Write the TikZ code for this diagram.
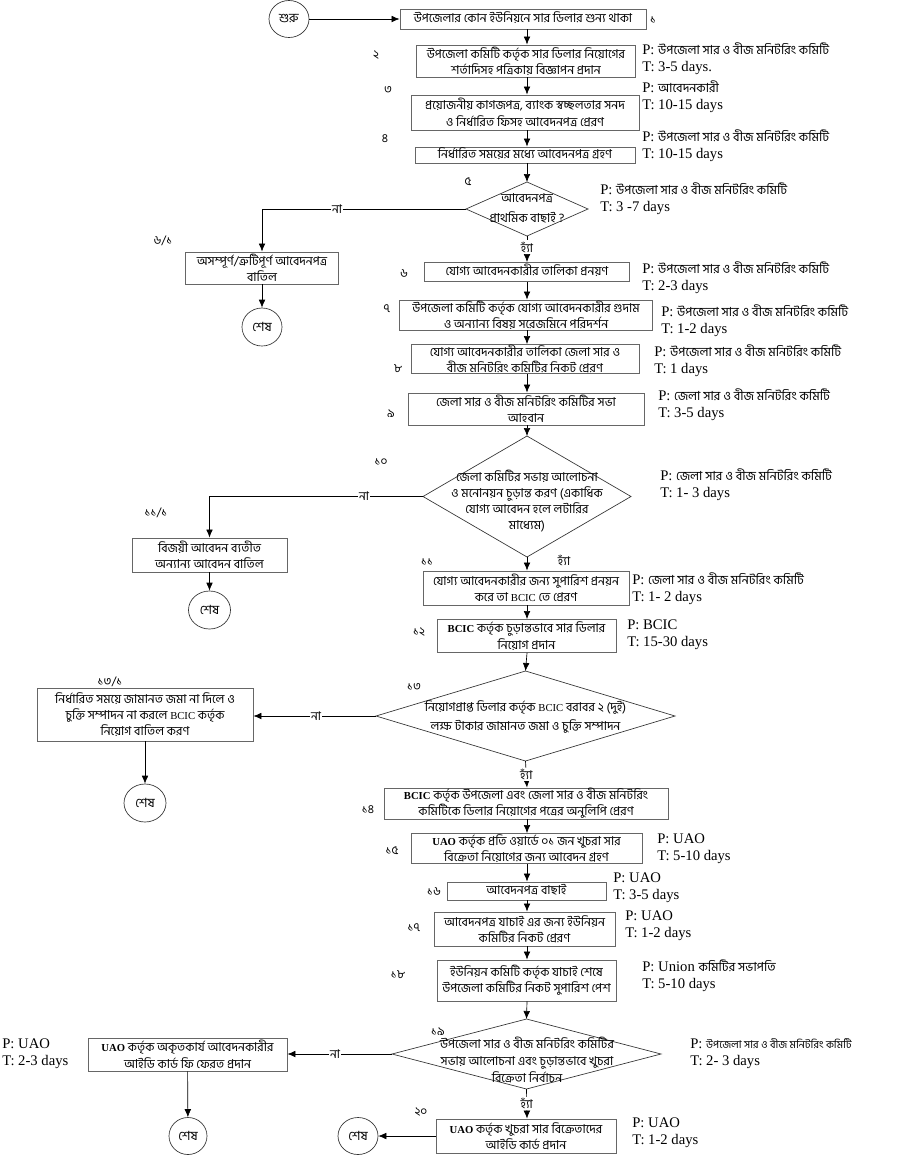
\documentclass[tikz,border=0pt]{standalone}
\usepackage{fontspec}
\setmainfont{Liberation Serif}
\newfontfamily\bn[Script=Bengali]{Hind Siliguri}
\usetikzlibrary{shapes.geometric,arrows.meta}
\newcommand\bp[1]{{\bn\fontsize{9.4}{12}\selectfont #1}}
\newcommand\lt[1]{{\rmfamily\bfseries\fontsize{8}{8}\selectfont #1}}
\newcommand\ltn[1]{{\rmfamily\fontsize{8}{8}\selectfont #1}}
\begin{document}
\begin{tikzpicture}[x=0.75pt,y=-0.75pt,
 box/.style={draw=black!60, line width=0.7pt, fill=white, inner sep=0pt, align=center, font=\bn\fontsize{9.2}{12.2}\selectfont},
 single/.style={text height=6.5pt, text depth=2pt},
 sz/.style 2 args={minimum width=#1*0.75pt, minimum height=#2*0.75pt},
 dia/.style={draw=black!80, line width=0.5pt, diamond, inner sep=0pt, outer sep=0pt},
 dtext/.style={align=center, inner sep=0pt, font=\bn\fontsize{9.2}{#1}\selectfont},
 endc/.style={draw=black!80, line width=0.5pt, ellipse, inner sep=0pt, font=\bn\fontsize{9.5}{10}\selectfont},
 arr/.style={-{Latex[length=6pt,width=5pt]}, line width=0.5pt},
 num/.style={font=\bn\fontsize{9}{10}\selectfont, inner sep=0pt},
 yn/.style={font=\bn\fontsize{9}{10}\selectfont, inner sep=1pt, fill=white},
 pt/.style={anchor=west, align=left, inner sep=0pt, font=\fontsize{11}{12.6}\selectfont}]
\useasboundingbox[fill=white] (0,0) rectangle (900,1164);
\coordinate (col) at (527,0);

% ---- nodes ----
\node[endc, sz={40}{37}] (start) at (289,19) {শুরু};
\node[box, single, sz={246}{20}] (b1) at (523,19) {উপজেলার কোন ইউনিয়নে সার ডিলার শুন্য থাকা};
\node[num] (n1) at (653,20) {১};

\node[box, sz={219}{32}] (b2) at (526,61) {উপজেলা কমিটি কর্তৃক সার ডিলার নিয়োগের\\শর্তাদিসহ পত্রিকায় বিজ্ঞাপন প্রদান};
\node[num] (n2) at (376,55) {২};
\node[pt] (p2) at (642,59) {P: \bp{উপজেলা সার ও বীজ মনিটরিং কমিটি}\\T: 3-5 days.};

\node[box, sz={228}{35}] (b3) at (525,112.5) {প্রয়োজনীয় কাগজপত্র, ব্যাংক স্বচ্ছলতার সনদ\\ও নির্ধারিত ফিসহ আবেদনপত্র প্রেরণ};
\node[num] (n3) at (388,90) {৩};
\node[pt] (p3) at (642,97) {P: \bp{আবেদনকারী}\\T: 10-15 days};

\node[box, single, sz={220}{16}] (b4) at (525,155) {নির্ধারিত সময়ের মধ্যে আবেদনপত্র গ্রহণ};
\node[num] (n4) at (385,139) {৪};
\node[pt] (p4) at (642,146) {P: \bp{উপজেলা সার ও বীজ মনিটরিং  কমিটি}\\T: 10-15 days};

\node[dia, sz={122}{54}] (d5) at (527,209) {};
\node[dtext=15pt] (t5) at (527,208) {আবেদনপত্র\\প্রাথমিক বাছাই ?};
\node[num] (n5) at (468,182) {৫};
\node[pt] (p5) at (600,199) {P: \bp{উপজেলা সার ও বীজ মনিটরিং  কমিটি}\\T: 3 -7 days};

\node[box, sz={153}{32}] (b61) at (262,268) {অসম্পূর্ণ/ত্রুটিপূর্ণ আবেদনপত্র\\বাতিল};
\node[num] (n61) at (163,241) {৬/১};
\node[endc, sz={40}{38}] (e61) at (262,327) {শেষ};

\node[box, single, sz={205}{19}] (b6) at (527,272) {যোগ্য আবেদনকারীর তালিকা প্রনয়ণ};
\node[num] (n6) at (404,274) {৬};
\node[pt] (p6) at (642,278) {P: \bp{উপজেলা সার ও বীজ মনিটরিং  কমিটি}\\T: 2-3 days};

\node[box, sz={253}{30}] (b7) at (526,315) {উপজেলা কমিটি কর্তৃক যোগ্য আবেদনকারীর গুদাম\\ও অন্যান্য বিষয় সরেজমিনে পরিদর্শন};
\node[num] (n7) at (387,309) {৭};
\node[pt] (p7) at (661,320.5) {P: \bp{উপজেলা সার ও বীজ মনিটরিং  কমিটি}\\T: 1-2 days};

\node[box, sz={228}{29}] (b8) at (525,359) {যোগ্য আবেদনকারীর তালিকা জেলা সার ও\\বীজ মনিটরিং কমিটির নিকট প্রেরণ};
\node[num] (n8) at (398,369) {৮};
\node[pt] (p8) at (654,361) {P: \bp{উপজেলা সার ও বীজ মনিটরিং  কমিটি}\\T: 1 days};

\node[box, sz={236}{32}] (b9) at (526,409) {জেলা সার ও বীজ মনিটরিং কমিটির সভা\\আহবান};
\node[num] (n9) at (391,414) {৯};
\node[pt] (p9) at (658,404.5) {P: \bp{জেলা সার ও বীজ মনিটরিং  কমিটি}\\T: 3-5 days};

\node[dia, sz={208}{121}] (d10) at (527,496.5) {};
\node[dtext=12pt] (t10) at (527,501) {জেলা  কমিটির সভায় আলোচনা\\ও মনোনয়ন চুড়ান্ত করণ (একাধিক\\যোগ্য আবেদন হলে লটারির\\মাধ্যেম)};
\node[num] (n10) at (381,462) {১০};
\node[pt] (p10) at (660,485) {P: \bp{জেলা সার ও বীজ মনিটরিং  কমিটি}\\T: 1- 3 days};

\node[box, sz={155}{34}] (b111) at (209.5,555) {বিজয়ী আবেদন ব্যতীত\\অন্যান্য আবেদন বাতিল};
\node[num] (n111) at (156,513) {১১/১};
\node[endc, sz={42}{38}] (e111) at (209.5,610) {শেষ};

\node[box, sz={206}{34}] (b11) at (526,588) {যোগ্য আবেদনকারীর জন্য সুপারিশ প্রনয়ন\\করে তা \ltn{BCIC} তে প্রেরণ};
\node[num] (n11) at (427,562) {১১};
\node[pt] (p11) at (632,588.5) {P: \bp{জেলা সার ও বীজ মনিটরিং  কমিটি}\\T: 1- 2 days};

\node[box, sz={179}{33}] (b12) at (526.5,636) {\lt{BCIC} কর্তৃক চুড়ান্তভাবে সার ডিলার\\নিয়োগ প্রদান};
\node[num] (n12) at (419,632) {১২};
\node[pt] (p12) at (627,634.5) {P: BCIC\\T: 15-30 days};

\node[dia, sz={299}{90}] (d13) at (525.5,716) {};
\node[dtext=14pt] (t13) at (525.5,717) {নিয়োগপ্রাপ্ত ডিলার কর্তৃক \ltn{BCIC} বরাবর ২ (দুই)\\লক্ষ টাকার জামানত জমা ও চুক্তি সম্পাদন};
\node[num] (n13) at (414,687) {১৩};

\node[box, sz={216}{53}] (b131) at (145,714.5) {নির্ধারিত সময়ে জামানত জমা না দিলে ও\\চুক্তি সম্পাদন না করলে \ltn{BCIC} কর্তৃক\\নিয়োগ বাতিল করণ};
\node[num] (n131) at (110,682) {১৩/১};
\node[endc, sz={42}{38}] (e131) at (145,803) {শেষ};

\node[box, sz={284}{31}] (b14) at (526,803.5) {\lt{BCIC} কর্তৃক উপজেলা এবং জেলা সার ও বীজ মনিটরিং\\কমিটিকে ডিলার নিয়োগের পত্রের অনুলিপি প্রেরণ};
\node[num] (n14) at (368,810) {১৪};

\node[box, sz={231}{30}] (b15) at (526.5,848.5) {\lt{UAO} কর্তৃক প্রতি ওয়ার্ডে ০১ জন খুচরা সার\\বিক্রেতা নিয়োগের জন্য আবেদন গ্রহণ};
\node[num] (n15) at (392,851) {১৫};
\node[pt] (p15) at (657,848.5) {P: UAO\\T: 5-10 days};

\node[box, single, sz={159}{18}] (b16) at (526.5,891) {আবেদনপত্র বাছাই};
\node[num] (n16) at (434,892) {১৬};
\node[pt] (p16) at (613,887.5) {P: UAO\\T: 3-5 days};

\node[box, sz={181}{34}] (b17) at (524.5,929) {আবেদনপত্র যাচাই এর জন্য ইউনিয়ন\\কমিটির নিকট প্রেরণ};
\node[num] (n17) at (414,928) {১৭};
\node[pt] (p17) at (625,926) {P: UAO\\T: 1-2 days};

\node[box, sz={179}{41}] (b18) at (526.5,980.5) {ইউনিয়ন কমিটি কর্তৃক যাচাই শেষে\\উপজেলা কমিটির নিকট সুপারিশ পেশ};
\node[num] (n18) at (398,975) {১৮};
\node[pt] (p18) at (642,975.5) {P: Union \bp{কমিটির সভাপতি}\\T: 5-10 days};

\node[dia, sz={269}{70}] (d19) at (526.5,1054) {};
\node[dtext=12.5pt] (t19) at (527,1060) {উপজেলা সার ও বীজ মনিটরিং কমিটির\\সভায় আলোচনা এবং চুড়ান্তভাবে খুচরা\\বিক্রেতা নির্বাচন};
\node[num] (n19) at (438,1032) {১৯};
\node[pt] (p19) at (690,1053.5) {P: {\bn\fontsize{8}{11.25}\selectfont উপজেলা সার ও বীজ মনিটরিং  কমিটি}\\T: 2- 3 days};

\node[box, sz={199}{33}] (b191) at (187.5,1054.5) {\lt{UAO} কর্তৃক অকৃতকার্য আবেদনকারীর\\আইডি কার্ড ফি ফেরত প্রদান};
\node[pt] (p191) at (2,1053.5) {P: UAO\\T: 2-3 days};
\node[endc, sz={38}{37}] (e191) at (188,1136) {শেষ};

\node[box, sz={180}{34}] (b20) at (526,1136) {\lt{UAO} কর্তৃক খুচরা সার বিক্রেতাদের\\আইডি কার্ড প্রদান};
\node[num] (n20) at (421,1112) {২০};
\node[pt] (p20) at (632,1133) {P: UAO\\T: 1-2 days};
\node[endc, sz={40}{37}] (e20) at (358,1136) {শেষ};

% ---- connectors ----
\draw[arr] (start) -- (b1);
\draw[arr] (b1.south -| col) -- (b2.north -| col);
\draw[arr] (b2.south -| col) -- (b3.north -| col);
\draw[arr] (b3.south -| col) -- (b4.north -| col);
\draw[arr] (b4.south -| col) -- (d5.north);
\draw[arr] (d5.west) -| (b61.north);
\node[yn] (no5) at (337,209) {না};
\draw[arr] (b61) -- (e61);
\draw[arr] (d5.south) -- (b6.north -| col) node[yn, pos=0.42] (y5) {হ্যাঁ};
\draw[arr] (b6.south -| col) -- (b7.north -| col);
\draw[arr] (b7.south -| col) -- (b8.north -| col);
\draw[arr] (b8.south -| col) -- (b9.north -| col);
\draw[arr] (b9.south -| col) -- (d10.north);
\draw[arr] (d10.west) -| (b111.north);
\node[yn] (no10) at (364,496.5) {না};
\draw[arr] (b111) -- (e111);
\draw[arr] (d10.south) -- (b11.north -| col);
\node[num] (y10) at (564,560) {হ্যাঁ};
\draw[arr] (b11.south -| col) -- (b12.north -| col);
\draw[arr] (b12.south -| col) -- (d13.north);
\draw[arr] (d13.west) -- (d13.west -| b131.east);
\node[yn] (no13) at (316,716) {না};
\draw[arr] (b131) -- (e131);
\draw[arr] (d13.south) -- (b14.north -| col) node[yn, midway] (y13) {হ্যাঁ};
\draw[arr] (b14.south -| col) -- (b15.north -| col);
\draw[arr] (b15.south -| col) -- (b16.north -| col);
\draw[arr] (b16.south -| col) -- (b17.north -| col);
\draw[arr] (b17.south -| col) -- (b18.north -| col);
\draw[arr] (b18.south -| col) -- (d19.north);
\draw[arr] (d19.west) -- (d19.west -| b191.east);
\node[yn] (no19) at (335,1054) {না};
\draw[arr] (b191) -- (e191);
\draw[arr] (d19.south) -- (b20.north -| col) node[yn, midway] (y19) {হ্যাঁ};
\draw[arr] (b20) -- (e20);
\end{tikzpicture}
\end{document}
